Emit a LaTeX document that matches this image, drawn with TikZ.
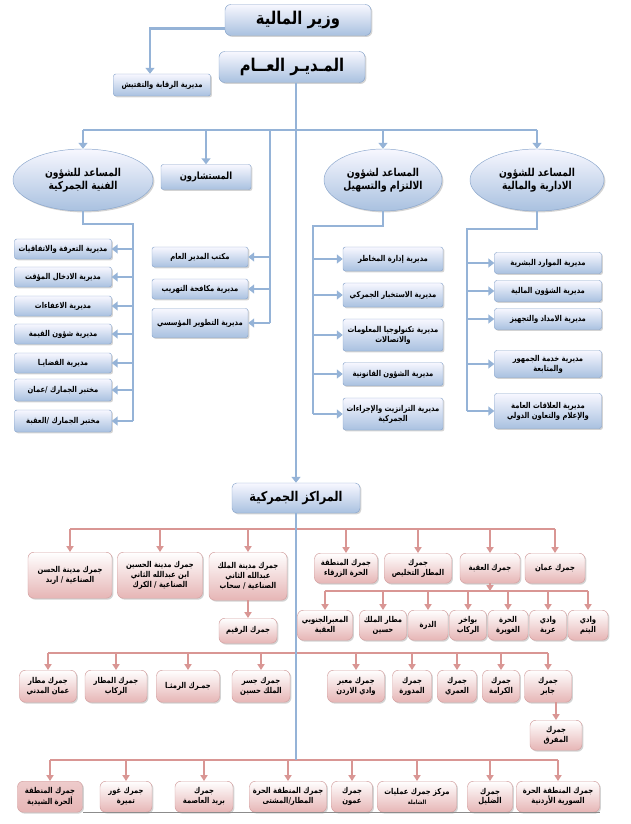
\documentclass[tikz,border=0pt]{standalone}
\usepackage{fontspec}
\newfontfamily\arabicfont[Script=Arabic,FakeStretch=0.84]{DejaVu Sans}
\TeXXeTstate=1
\usetikzlibrary{arrows.meta,positioning,shapes.geometric,shadows,calc}
\definecolor{linkblue}{HTML}{95B3D7}
\definecolor{edgeblue}{HTML}{8AA6CC}
\definecolor{boxblue}{HTML}{A9C1E0}
\definecolor{linkpink}{HTML}{D99694}
\definecolor{edgepink}{HTML}{D3A0A0}
\definecolor{boxpink}{HTML}{E6B5B5}
\newcommand\rl[1]{\beginR#1\endR}
\newcommand\boxfont{\arabicfont\bfseries\fontsize{6.9}{8.4}\selectfont}

\begin{document}
\begin{tikzpicture}[x=0.03cm,y=-0.03cm,
    link/.style={line width=2.5pt,draw=linkblue},
    blink/.style={link,-{Triangle[length=5pt,width=7.5pt]}},
    plink/.style={line width=1.6pt,draw=linkpink},
    pto/.style={plink,-{Triangle[length=5pt,width=6pt]}},
    dbox/.style={draw=edgeblue,rounded corners=2pt,top color=blue!3,
                 bottom color=boxblue,align=center,inner sep=1pt,
                 drop shadow={opacity=0.35,shadow xshift=1.2pt,shadow yshift=-1.2pt},
                 font=\boxfont},
    headbox/.style={dbox,rounded corners=5pt,minimum width=4.38cm,minimum height=0.93cm,
                 font=\arabicfont\bfseries\fontsize{15}{17}\selectfont},
    asst/.style={dbox,ellipse,minimum height=1.86cm,inner sep=0pt,
                 font=\arabicfont\bfseries\fontsize{9.3}{11.5}\selectfont},
    cbox/.style={draw=edgepink,rounded corners=5pt,top color=white,bottom color=boxpink,
                 align=center,inner sep=1pt,anchor=north,
                 drop shadow={opacity=0.35,shadow xshift=1.2pt,shadow yshift=-1.2pt},
                 font=\boxfont}
  ]
  \useasboundingbox (0,0) rectangle (630,824);

  % top of the chart
  \node[headbox] (min) at (298,20) {\rl{وزير المالية}};
  \node[headbox] (gm) at (292,67) {\rl{المـديـر العــام}};
  \node[dbox,minimum width=2.91cm,minimum height=0.66cm] (insp) at (162,85) {\rl{مديرية الرقابة والتفتيش}};
  \draw[blink] ([yshift=-7pt]min.west) -| ($(insp.north)+(-12,0)$);

  \node[asst,minimum width=4.2cm] (asstT) at (83,180) {\rl{المساعد للشؤون}\\\rl{الفنية الجمركية}};
  \node[dbox,minimum width=2.7cm,minimum height=0.75cm,
        font=\arabicfont\bfseries\fontsize{8.5}{10}\selectfont] (cons) at (206,177) {\rl{المستشارون}};
  \node[asst,minimum width=3.54cm] (asstC) at (383,180) {\rl{المساعد لشؤون}\\\rl{الالتزام والتسهيل}};
  \node[asst,minimum width=4.02cm] (asstA) at (537,180) {\rl{المساعد للشؤون}\\\rl{الادارية والمالية}};

  \node[dbox,minimum width=3.84cm,minimum height=0.9cm,rounded corners=4pt,
        font=\arabicfont\bfseries\fontsize{11.5}{13}\selectfont] (centers) at (296,498) {\rl{المراكز الجمركية}};

  \coordinate (bar) at (0,130);
  \draw[link] (asstT |- bar) -- (asstA |- bar);
  \foreach \n in {asstT,cons,asstC,asstA}
    \draw[blink] (\n |- bar) -- (\n.north);

  % directorates
  \coordinate (tbus) at (133,224);
  \foreach \y/\h/\t [count=\i] in {
      249/0.6cm/{\rl{مديرية التعرفة والاتفاقيات}},
      277/0.6cm/{\rl{مديرية الادخال المؤقت}},
      306/0.6cm/{\rl{مديرية الاعفاءات}},
      334/0.6cm/{\rl{مديرية شؤون القيمة}},
      363/0.6cm/{\rl{مديرية القضايـا}},
      390/0.66cm/{\rl{مختبر الجمارك /عمان}},
      421/0.66cm/{\rl{مختبر الجمارك /العقبة}}}{
    \node[dbox,minimum width=2.91cm,minimum height=\h] (tech\i) at (63,\y) {\t};
    \draw[blink] (tbus |- tech\i) -- (tech\i.east);
  }
  \draw[link] (asstT.south) |- (tbus) -- (tbus |- tech7);

  \coordinate (cbus) at (270,130);
  \foreach \y/\h/\t [count=\i] in {
      257/0.6cm/{\rl{مكتب المدير العام}},
      289/0.6cm/{\rl{مديرية مكافحة التهريب}},
      323/0.87cm/{\rl{مديرية التطوير المؤسسي}}}{
    \node[dbox,minimum width=2.88cm,minimum height=\h] (office\i) at (200,\y) {\t};
    \draw[blink] (cbus |- office\i) -- (office\i.east);
  }
  \draw[link] (cbus) -- (cbus |- office3);

  \coordinate (kbus) at (313,226);
  \foreach \y/\h/\t [count=\i] in {
      259/0.72cm/{\rl{مديرية إدارة المخاطر}},
      295/0.72cm/{\rl{مديرية الاستخبار الجمركي}},
      335/0.96cm/{\rl{مديرية تكنولوجيا المعلومات}\\\rl{والاتصالات}},
      374/0.69cm/{\rl{مديرية الشؤون القانونية}},
      414/0.96cm/{\rl{مديرية الترانزيت والإجراءات}\\\rl{الجمركية}}}{
    \node[dbox,minimum width=3.0cm,minimum height=\h] (comp\i) at (393,\y) {\t};
    \draw[blink] (kbus |- comp\i) -- (comp\i.west);
  }
  \draw[link] (asstC.south) |- (kbus) -- (kbus |- comp5);

  \coordinate (abus) at (467,229);
  \foreach \y/\h/\t [count=\i] in {
      263/0.63cm/{\rl{مديرية الموارد البشرية}},
      291/0.63cm/{\rl{مديرية الشؤون المالية}},
      319/0.63cm/{\rl{مديرية الامداد والتجهيز}},
      364/0.81cm/{\rl{مديرية خدمة الجمهور}\\\rl{والمتابعة}},
      411/1.05cm/{\rl{مديرية العلاقات العامة}\\\rl{والإعلام والتعاون الدولي}}}{
    \node[dbox,minimum width=3.21cm,minimum height=\h] (admin\i) at (548,\y) {\t};
    \draw[blink] (abus |- admin\i) -- (admin\i.west);
  }
  \draw[link] (asstA.south) |- (abus) -- (abus |- admin5);

  % customs centres, first row
  \node[cbox,minimum width=2.52cm,minimum height=1.38cm] (hasan) at (70,552) {\rl{جمرك مدينة الحسن}\\\rl{الصناعية / اربد}};
  \node[cbox,minimum width=2.55cm,minimum height=1.38cm] (husein) at (160,552) {\rl{جمرك مدينة الحسين}\\\rl{ابن عبدالله الثاني}\\\rl{الصناعية / الكرك}};
  \node[cbox,minimum width=2.34cm,minimum height=1.44cm] (abd) at (248,552) {\rl{جمرك مدينة الملك}\\\rl{عبدالله الثاني}\\\rl{الصناعية / سحاب}};
  \node[cbox,minimum width=1.89cm,minimum height=0.9cm] (zarqa) at (346,553) {\rl{جمرك المنطقة}\\\rl{الحرة الزرقاء}};
  \node[cbox,minimum width=2.01cm,minimum height=0.9cm] (matar) at (418,553) {\rl{جمرك}\\\rl{المطار التخليص}};
  \node[cbox,minimum width=1.8cm,minimum height=0.9cm] (aqaba) at (490,553) {\rl{جمرك العقبة}};
  \node[cbox,minimum width=1.8cm,minimum height=0.9cm] (amman) at (555,553) {\rl{جمرك  عمان}};
  \node[cbox,minimum width=1.74cm,minimum height=0.75cm] (raqeem) at (248,618) {\rl{جمرك الرقيم}};

  \coordinate (bar1) at (0,529);
  \draw[plink] (hasan |- bar1) -- (amman |- bar1);
  \foreach \n in {hasan,husein,abd,zarqa,matar,aqaba,amman}
    \draw[pto] (\n |- bar1) -- (\n.north);
  \draw[pto] (abd.south) -- (raqeem.north);

  % under Aqaba
  \foreach \n/\x/\w/\t in {
      maabar/325/1.65cm/{\rl{المعبرالجنوبي}\\\rl{العقبة}},
      airport/383/1.41cm/{\rl{مطار الملك}\\\rl{حسين}},
      durra/428/1.2cm/{\rl{الدرة}},
      ships/468/1.11cm/{\rl{بواخر}\\\rl{الركاب}},
      ghwera/508/1.2cm/{\rl{الحرة}\\\rl{الغويرة}},
      araba/548/1.11cm/{\rl{وادي}\\\rl{عربة}},
      yutm/588/1.2cm/{\rl{وادي}\\\rl{اليتم}}}
    \node[cbox,minimum width=\w,minimum height=0.9cm] (\n) at (\x,610) {\t};
  \coordinate (bar2) at (0,591);
  \draw[pto] (aqaba.south) -- (aqaba |- bar2);
  \draw[plink] (maabar |- bar2) -- (yutm |- bar2);
  \foreach \n in {maabar,airport,durra,ships,ghwera,araba,yutm}
    \draw[pto] (\n |- bar2) -- (\n.north);

  % third row
  \foreach \n/\x/\w/\t in {
      civil/48/1.71cm/{\rl{جمرك مطار}\\\rl{عمان المدني}},
      rukban/116/1.86cm/{\rl{جمرك المطار}\\\rl{الركاب}},
      ramtha/188/1.89cm/{\rl{جمـرك الرمثـا}},
      bridge/261/1.74cm/{\rl{جمرك جسر}\\\rl{الملك حسين}},
      valley/356/1.71cm/{\rl{جمرك معبر}\\\rl{وادي الاردن}},
      mudawwara/412/1.17cm/{\rl{جمرك}\\\rl{المدورة}},
      omari/457/1.17cm/{\rl{جمرك}\\\rl{العمري}},
      karama/501/1.11cm/{\rl{جمرك}\\\rl{الكرامة}},
      jaber/548/1.41cm/{\rl{جمرك}\\\rl{جابر}}}
    \node[cbox,minimum width=\w,minimum height=0.96cm] (\n) at (\x,670) {\t};
  \node[cbox,minimum width=1.56cm,minimum height=0.9cm] (mafraq) at (556,720) {\rl{جمرك}\\\rl{المفرق}};
  \coordinate (bar3) at (0,653);
  \draw[plink] (civil |- bar3) -- (jaber |- bar3);
  \foreach \n in {civil,rukban,ramtha,bridge,valley,mudawwara,omari,karama,jaber}
    \draw[pto] (\n |- bar3) -- (\n.north);
  \draw[pto] (jaber.south -| mafraq) -- (mafraq.north);

  % fourth row
  \foreach \n/\x/\w/\t in {
      ghor/126/1.56cm/{\rl{جمرك غور}\\\rl{تميرة}},
      post/204/1.74cm/{\rl{جمرك}\\\rl{بريد العاصمة}},
      mashta/288/2.31cm/{\rl{جمرك المنطقة الحرة}\\\rl{المطار/المشتى}},
      amoun/352/1.23cm/{\rl{جمرك}\\\rl{عمون}},
      ops/417/2.37cm/{\rl{مركز جمرك عمليات}\\{\fontsize{5}{6}\selectfont\rl{الشاملة}}},
      dulail/490/1.35cm/{\rl{جمرك}\\\rl{الضليل}},
      syrian/558/2.49cm/{\rl{جمرك المنطقة الحرة}\\\rl{السورية الأردنية}}}
    \node[cbox,minimum width=\w,minimum height=0.93cm] (\n) at (\x,781) {\t};
  \node[cbox,minimum width=1.95cm,minimum height=0.93cm,top color=boxpink!70] (shidiya) at (50,781) {\rl{جمرك المنطقة}\\\rl{ألحرة الشيدية}};
  \coordinate (bar4) at (0,760);
  \draw[plink] (shidiya |- bar4) -- (syrian |- bar4);
  \foreach \n in {shidiya,ghor,post,mashta,amoun,ops,dulail,syrian}
    \draw[pto] (\n |- bar4) -- (\n.north);
  \draw[black!45] (83,812) -- (600,812);

  % main trunk
  \draw[blink] (gm.south -| centers) -- (centers.north);
  \draw[link] (centers.south) -- (centers |- bar4);
\end{tikzpicture}
\end{document}
